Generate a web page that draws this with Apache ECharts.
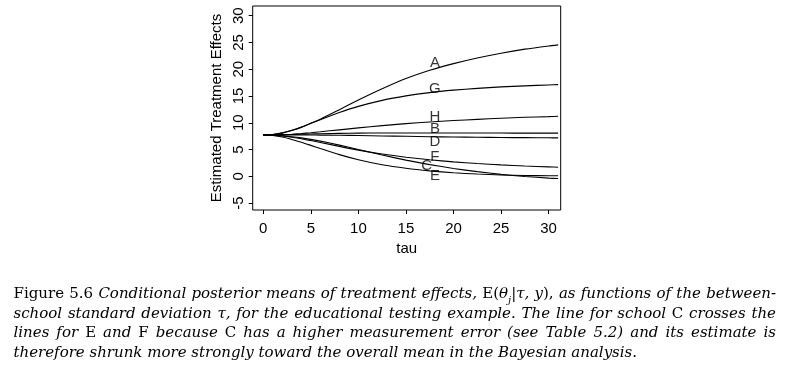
<!DOCTYPE html>
<html>
<head>
<meta charset="utf-8">
<script src="https://cdn.jsdelivr.net/npm/echarts@6.0.0/dist/echarts.min.js"></script>
<style>
html,body{margin:0;padding:0;background:#fff;}
#c{width:790px;height:370px;}
</style>
</head>
<body>
<div id="c"></div>
<script>
// tau grid (x values)
const tau = [0, 1, 2, 3, 4, 5, 6, 8, 10, 12.5, 15, 17.5, 20, 22.5, 25, 27.5, 30, 31];
// estimated treatment effects per school
const schoolA = [7.75, 7.8, 8.07, 8.55, 9.14, 9.9, 10.68, 12.45, 14.24, 16.34, 18.25, 19.8, 21.05, 22.1, 23.0, 23.75, 24.35, 24.55];
const schoolB = [7.75, 7.75, 7.76, 7.8, 7.85, 7.9, 7.95, 8.02, 8.07, 8.1, 8.1, 8.1, 8.1, 8.09, 8.08, 8.07, 8.06, 8.06];
const schoolC = [7.75, 7.7, 7.58, 7.4, 7.18, 6.9, 6.58, 5.83, 5.0, 3.98, 3.03, 2.19, 1.47, 0.87, 0.36, -0.02, -0.33, -0.42];
const schoolD = [7.75, 7.74, 7.72, 7.72, 7.72, 7.72, 7.7, 7.67, 7.62, 7.54, 7.47, 7.4, 7.34, 7.29, 7.25, 7.22, 7.19, 7.18];
const schoolE = [7.75, 7.62, 7.33, 6.88, 6.37, 5.78, 5.18, 4.05, 3.1, 2.16, 1.5, 1.02, 0.67, 0.42, 0.25, 0.16, 0.12, 0.12];
const schoolF = [7.75, 7.68, 7.52, 7.3, 7.03, 6.68, 6.33, 5.6, 4.9, 4.16, 3.57, 3.1, 2.7, 2.4, 2.14, 1.93, 1.76, 1.7];
const schoolG = [7.75, 7.82, 8.12, 8.6, 9.21, 9.9, 10.58, 11.91, 13.06, 14.19, 15.02, 15.64, 16.09, 16.42, 16.7, 16.9, 17.06, 17.12];
const schoolH = [7.75, 7.76, 7.78, 7.87, 8.0, 8.15, 8.32, 8.68, 9.04, 9.46, 9.84, 10.15, 10.42, 10.64, 10.85, 11.02, 11.15, 11.22];
const schoolNames = ['A', 'B', 'C', 'D', 'E', 'F', 'G', 'H'];
// curve label positions (tau, value)
const labelTau = [18.05, 18.05, 17.18, 18.05, 18.05, 18.05, 18.05, 18.05];
const labelVal = [21.2, 8.83, 1.98, 6.46, 0.15, 3.66, 16.25, 11.13];
// axis ticks
const xTicks = [0, 5, 10, 15, 20, 25, 30];
const yTicks = [-5, 0, 5, 10, 15, 20, 25, 30];

const schoolVals = [schoolA, schoolB, schoolC, schoolD, schoolE, schoolF, schoolG, schoolH];
const sans = '"Liberation Sans", Arial, sans-serif';
const serif = '"DejaVu Serif", serif';

const lineSeries = schoolVals.map((vals, i) => ({
  type: 'line',
  name: schoolNames[i],
  data: tau.map((t, k) => [t, vals[k]]),
  showSymbol: false,
  smooth: 0.2,
  lineStyle: {color: '#000', width: 1.1},
  silent: true,
  z: 2
}));

const labelSeries = {
  type: 'scatter',
  symbolSize: 0,
  data: schoolNames.map((n, i) => ({value: [labelTau[i], labelVal[i]], name: n})),
  label: {
    show: true,
    position: 'inside',
    formatter: p => p.name,
    color: '#000',
    fontFamily: sans,
    fontSize: 15
  },
  silent: true,
  z: 5
};

// ---- caption (justified, word by word) ----
const FS = 15;
const styles = {
  n: {fontFamily: serif, fontSize: FS, fontStyle: 'normal'},
  i: {fontFamily: serif, fontSize: FS, fontStyle: 'italic'},
  s: {fontFamily: serif, fontSize: 10, fontStyle: 'italic'}
};
// each line: list of words; each word: list of [style, text]
const captionLines = [
  [[['n','Figure']],[['n','5.6']],[['i','Conditional']],[['i','posterior']],[['i','means']],[['i','of']],[['i','treatment']],[['i','effects,']],[['n','E('],['i','θ'],['s','j'],['n','|'],['i','τ,']],[['i','y'],['n','),']],[['i','as']],[['i','functions']],[['i','of']],[['i','the']],[['i','between-']]],
  [[['i','school']],[['i','standard']],[['i','deviation']],[['i','τ,']],[['i','for']],[['i','the']],[['i','educational']],[['i','testing']],[['i','example.']],[['i','The']],[['i','line']],[['i','for']],[['i','school']],[['n','C']],[['i','crosses']],[['i','the']]],
  [[['i','lines']],[['i','for']],[['n','E']],[['i','and']],[['n','F']],[['i','because']],[['n','C']],[['i','has']],[['i','a']],[['i','higher']],[['i','measurement']],[['i','error']],[['i','(see']],[['i','Table']],[['i','5.2)']],[['i','and']],[['i','its']],[['i','estimate']],[['i','is']]],
  [[['i','therefore']],[['i','shrunk']],[['i','more']],[['i','strongly']],[['i','toward']],[['i','the']],[['i','overall']],[['i','mean']],[['i','in']],[['i','the']],[['i','Bayesian']],[['i','analysis.']]]
];
const captionBaseline = [298, 317.5, 337, 356.5];
const capLeft = 13.5, capRight = 776;

const mctx = document.createElement('canvas').getContext('2d');
function fontStr(st) { return st.fontStyle + ' ' + st.fontSize + 'px ' + st.fontFamily; }
function measure(seg) { mctx.font = fontStr(styles[seg[0]]); return mctx.measureText(seg[1]).width; }
function wordWidth(w) { return w.reduce((a, s) => a + measure(s), 0); }

const graphics = [];
captionLines.forEach((words, li) => {
  const widths = words.map(wordWidth);
  const total = widths.reduce((a, b) => a + b, 0);
  mctx.font = fontStr(styles.i);
  const normalGap = mctx.measureText(' ').width;
  const justify = li < captionLines.length - 1;
  const gap = justify ? (capRight - capLeft - total) / (words.length - 1) : normalGap;
  let x = capLeft;
  words.forEach((w, wi) => {
    let sx = x;
    w.forEach(seg => {
      const st = styles[seg[0]];
      const dy = seg[0] === 's' ? 3 : 0;
      graphics.push({
        type: 'text',
        x: sx,
        y: captionBaseline[li] + 4 + dy,
        silent: true,
        style: {
          text: seg[1],
          fontFamily: st.fontFamily,
          fontSize: st.fontSize,
          fontStyle: st.fontStyle,
          fill: '#000',
          align: 'left',
          verticalAlign: 'bottom'
        }
      });
      sx += measure(seg);
    });
    x += widths[wi] + gap;
  });
});

const chart = echarts.init(document.getElementById('c'), null, {renderer: 'canvas'});
chart.setOption({
  animation: false,
  backgroundColor: '#fff',
  grid: {left: 252.7, top: 6, width: 308, height: 204, show: true, borderColor: '#000', borderWidth: 1, backgroundColor: 'transparent'},
  xAxis: {
    type: 'value', min: -1.11, max: 31.27,
    name: 'tau', nameLocation: 'middle', nameGap: 31,
    nameTextStyle: {fontFamily: sans, fontSize: 15, color: '#000'},
    axisLine: {show: false, onZero: false},
    splitLine: {show: false},
    axisTick: {show: true, length: 4, inside: false, lineStyle: {color: '#000'}, customValues: xTicks},
    axisLabel: {customValues: xTicks, fontFamily: sans, fontSize: 15, color: '#000', margin: 11}
  },
  yAxis: {
    type: 'value', min: -6.29, max: 31.81,
    name: 'Estimated Treatment Effects', nameLocation: 'middle', nameRotate: 90, nameGap: 28,
    nameTextStyle: {fontFamily: sans, fontSize: 15, color: '#000'},
    axisLine: {show: false, onZero: false},
    splitLine: {show: false},
    axisTick: {show: true, length: 4, inside: false, lineStyle: {color: '#000'}, customValues: yTicks},
    axisLabel: {customValues: yTicks, rotate: 90, fontFamily: sans, fontSize: 15, color: '#000', margin: 6}
  },
  series: lineSeries.concat([labelSeries]),
  graphic: graphics
});
</script>
</body>
</html>
